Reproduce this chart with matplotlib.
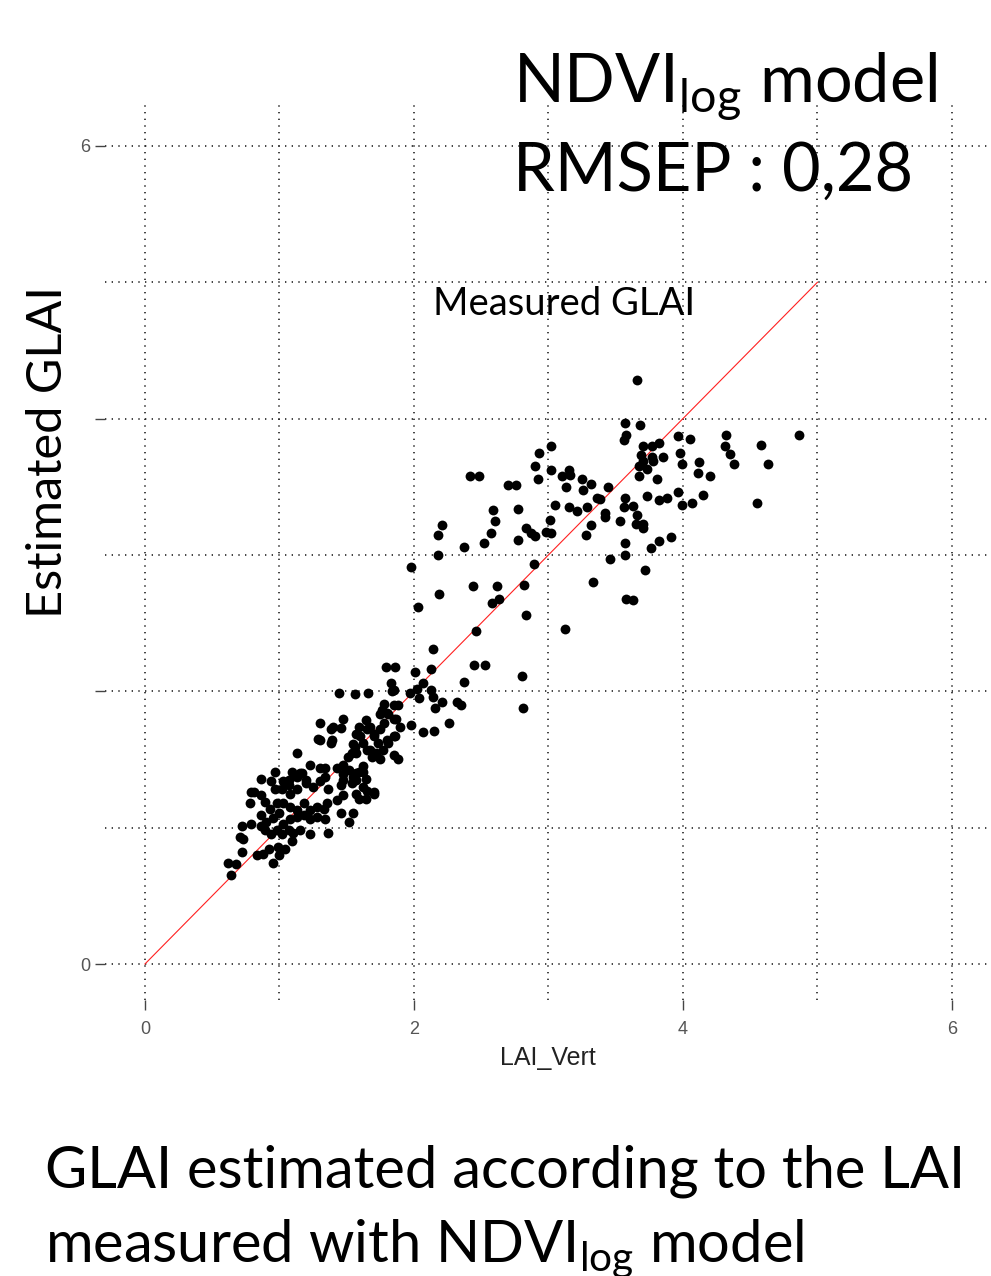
import matplotlib
matplotlib.use("Agg")
import matplotlib.pyplot as plt
import numpy as np

plt.rcParams["font.family"] = ["Lato", "DejaVu Sans"]
plt.rcParams["mathtext.fontset"] = "custom"
plt.rcParams["mathtext.rm"] = "Lato"
plt.rcParams["mathtext.it"] = "Lato:italic"

# measured LAI (x) vs GLAI estimated with the NDVI_log model (y)
lai_upper = [3.66, 3.57, 3.68, 3.58, 3.56, 3.96, 4.05, 4.32, 4.31, 4.35, 4.38, 4.58, 4.63, 4.86, 4.55,
             3.70, 3.77, 3.82, 3.69, 3.77, 3.85, 3.70, 3.78, 3.98, 3.99, 4.12, 4.11, 4.20,
             3.67, 3.73, 3.67, 3.81, 3.44, 3.25, 3.32, 3.26, 3.10, 3.15, 3.16, 3.13, 3.02,
             2.93, 3.02, 2.90, 2.92, 2.42, 2.48, 2.70, 2.76, 2.59, 2.60, 2.57, 2.52, 2.77, 2.77,
             2.83, 2.87, 2.90, 2.98, 3.02, 3.01, 3.05, 3.15, 3.21, 3.29, 3.36, 3.42, 3.42,
             3.32, 3.28, 3.53, 3.57, 3.56, 3.63, 3.38, 3.66, 3.65, 3.70, 3.70, 3.73, 3.82, 3.88,
             3.96, 3.99, 4.07, 4.15, 3.57, 3.57, 3.46, 3.76, 3.82, 3.91, 3.72, 3.33, 3.58, 3.63, 3.12]
glai_upper = [4.28, 3.97, 3.95, 3.88, 3.84, 3.87, 3.85, 3.88, 3.80, 3.74, 3.67, 3.81, 3.67, 3.88, 3.38,
              3.80, 3.80, 3.82, 3.73, 3.72, 3.72, 3.69, 3.69, 3.75, 3.67, 3.68, 3.60, 3.58,
              3.65, 3.63, 3.58, 3.56, 3.50, 3.56, 3.52, 3.48, 3.58, 3.62, 3.59, 3.50, 3.62,
              3.75, 3.80, 3.65, 3.56, 3.58, 3.58, 3.51, 3.51, 3.33, 3.25, 3.16, 3.09, 3.34, 3.11,
              3.20, 3.16, 3.14, 3.17, 3.16, 3.26, 3.37, 3.35, 3.32, 3.35, 3.42, 3.31, 3.28,
              3.22, 3.15, 3.25, 3.42, 3.35, 3.36, 3.41, 3.29, 3.23, 3.23, 3.20, 3.43, 3.40, 3.42,
              3.46, 3.37, 3.38, 3.44, 3.09, 3.00, 2.97, 3.05, 3.10, 3.13, 2.89, 2.80, 2.68, 2.67, 2.46]

lai_mid = [2.37, 2.18, 2.21, 2.18, 1.98, 2.89, 2.44, 2.62, 2.19, 2.58, 2.63, 2.82, 2.83, 2.03, 2.46,
           2.14, 2.13, 2.45, 2.53, 2.80, 2.81, 2.37, 2.01, 1.79, 1.86,
           1.97, 2.02, 2.04, 2.13, 2.14, 2.21, 2.16, 2.32, 2.35,
           2.26, 2.15, 2.07, 1.98, 1.90, 1.85, 1.78, 1.85, 2.07, 1.85, 1.80]
glai_mid = [3.06, 3.15, 3.22, 3.00, 2.91, 2.93, 2.77, 2.77, 2.71, 2.65, 2.68, 2.78, 2.56, 2.62, 2.44,
            2.31, 2.16, 2.19, 2.19, 2.11, 1.88, 2.07, 2.14, 2.18, 2.18,
            1.99, 2.02, 1.95, 2.01, 1.96, 1.92, 1.88, 1.92, 1.90,
            1.77, 1.71, 1.70, 1.75, 1.74, 1.80, 1.91, 1.67, 2.06, 2.01, 1.84]

lai_low = [1.44, 1.56, 1.66, 1.84, 1.83, 1.76, 1.85, 1.88, 1.81, 1.87,
           1.30, 1.38, 1.40, 1.47, 1.29, 1.38, 1.30, 1.39, 1.46,
           1.64, 1.75, 1.78, 1.57, 1.65, 1.70, 1.75, 1.80, 1.59, 1.67, 1.70,
           1.60, 1.56, 1.62, 1.67, 1.73, 1.77, 1.81, 1.86,
           1.13, 1.55, 1.57, 1.51, 1.65, 1.72, 1.75, 1.54, 1.69, 1.85, 1.88, 1.23, 1.30, 1.34,
           1.43, 1.47, 1.52, 1.57, 1.62, 1.47, 1.55, 1.59, 1.62, 1.54, 1.46,
           0.97, 1.07, 1.15, 1.20, 0.86, 0.79, 0.78,
           1.47, 1.57, 1.64, 1.62, 1.57, 1.70, 1.64,
           1.47, 1.43, 1.46, 1.55, 1.52, 1.59, 1.70, 1.65,
           1.03, 1.09, 1.13, 1.17, 0.94, 0.97, 1.02, 1.07, 1.08, 1.13,
           1.20, 1.25, 1.30, 1.34, 1.36, 0.81, 0.86, 0.89, 0.93, 0.98,
           1.03, 1.08, 1.13, 1.18, 1.23, 1.28, 1.33, 1.35,
           0.86, 0.90, 0.95, 1.00, 1.03, 1.08, 1.13, 1.18, 1.23, 1.28, 1.34,
           0.72, 0.79, 0.86, 0.71, 0.73, 0.89, 0.94, 0.98, 1.02, 1.07, 1.10, 1.15,
           1.23, 1.36, 0.92, 0.99, 1.04, 1.09, 1.00, 0.72, 0.83, 0.88, 0.95, 0.62, 0.68, 0.64]
glai_low = [1.99, 1.98, 1.99, 2.00, 2.06, 1.86, 1.90, 1.90, 1.83, 1.80,
            1.77, 1.72, 1.74, 1.80, 1.65, 1.62, 1.64, 1.64, 1.73,
            1.79, 1.83, 1.77, 1.69, 1.72, 1.67, 1.72, 1.64, 1.74, 1.74, 1.69,
            1.67, 1.59, 1.62, 1.57, 1.62, 1.57, 1.62, 1.67,
            1.55, 1.61, 1.55, 1.52, 1.57, 1.55, 1.50, 1.55, 1.52, 1.53, 1.50, 1.46, 1.44, 1.44,
            1.44, 1.46, 1.42, 1.40, 1.41, 1.39, 1.37, 1.41, 1.45, 1.33, 1.31,
            1.41, 1.35, 1.40, 1.35, 1.36, 1.26, 1.18,
            1.35, 1.35, 1.36, 1.30, 1.25, 1.26, 1.21,
            1.24, 1.20, 1.11, 1.11, 1.04, 1.21, 1.25, 1.27,
            1.34, 1.41, 1.37, 1.40, 1.34, 1.28, 1.28, 1.31, 1.25, 1.28,
            1.33, 1.30, 1.34, 1.37, 1.28, 1.26, 1.24, 1.19, 1.14, 1.18,
            1.18, 1.15, 1.13, 1.18, 1.13, 1.15, 1.14, 1.18,
            1.09, 1.04, 1.07, 1.11, 1.03, 1.06, 1.08, 1.09, 1.06, 1.08, 1.06,
            1.01, 1.03, 1.01, 0.93, 0.92, 0.98, 0.95, 0.98, 0.95, 0.98, 0.96, 0.98,
            0.95, 0.96, 0.84, 0.86, 0.84, 0.90, 0.80, 0.82, 0.80, 0.81, 0.74, 0.74, 0.73, 0.65]

lai = np.array(lai_upper + lai_mid + lai_low)
glai = np.array(glai_upper + glai_mid + glai_low)

line_x = [0, 5]
line_y = [0, 5]
major_ticks = [0, 2, 4, 6]
ytick_labels = ["0", "", "", "6"]
grid_vals = [0, 1, 2, 3, 4, 5, 6]

W, H = 991, 1276
fig = plt.figure(figsize=(W / 100, H / 100), dpi=100)
ax = fig.add_axes([105 / W, 1 - 1000 / H, 885 / W, 895 / H])
ax.set_xlim(-0.297, 6.283)
ax.set_ylim(-0.264, 6.30)
for s in ax.spines.values():
    s.set_visible(False)

dots = (0, (0.8, 3.2))
for g in grid_vals:
    ax.axvline(g, color="#222222", lw=1.2, ls=dots, zorder=1)
    ax.axhline(g, color="#222222", lw=1.2, ls=dots, zorder=1)

ax.plot(line_x, line_y, color="#ff2020", lw=0.8, zorder=2)
ax.scatter(lai, glai, s=50, color="black", linewidths=0, zorder=3)

ax.set_xticks(major_ticks)
ax.set_xticklabels([str(t) for t in major_ticks])
ax.set_yticks(major_ticks)
ax.set_yticklabels(ytick_labels)
ax.tick_params(axis="both", direction="out", length=7, width=1.0, color="#444444",
               labelcolor="#555555", labelsize=13)
ax.tick_params(axis="x", pad=8)
for lbl in ax.get_xticklabels() + ax.get_yticklabels():
    lbl.set_family(["Liberation Sans", "DejaVu Sans"])

fig.text(548 / W, 1 - 1058 / H, "LAI_Vert", ha="center", va="center", fontsize=18,
         color="#222222", family=["Liberation Sans", "DejaVu Sans"])
fig.text(48 / W, 1 - 452 / H, "Estimated GLAI", rotation=90, ha="center", va="center",
         fontsize=35, color="black")
fig.text(433 / W, 1 - 315 / H, "Measured GLAI", ha="left", va="baseline", fontsize=27.5)
fig.text(513 / W, 1 - 102 / H, r"NDVI$_{\mathrm{log}}$ model", ha="left", va="baseline", fontsize=48)
fig.text(513 / W, 1 - 191 / H, "RMSEP : 0,28", ha="left", va="baseline", fontsize=48)
fig.text(45 / W, 1 - 1187 / H, "GLAI estimated according to the LAI", ha="left", va="baseline",
         fontsize=41.7)
fig.text(45 / W, 1 - 1262 / H, r"measured with NDVI$_{\mathrm{log}}$ model", ha="left",
         va="baseline", fontsize=41.7)

fig.savefig("out.png", dpi=100)
